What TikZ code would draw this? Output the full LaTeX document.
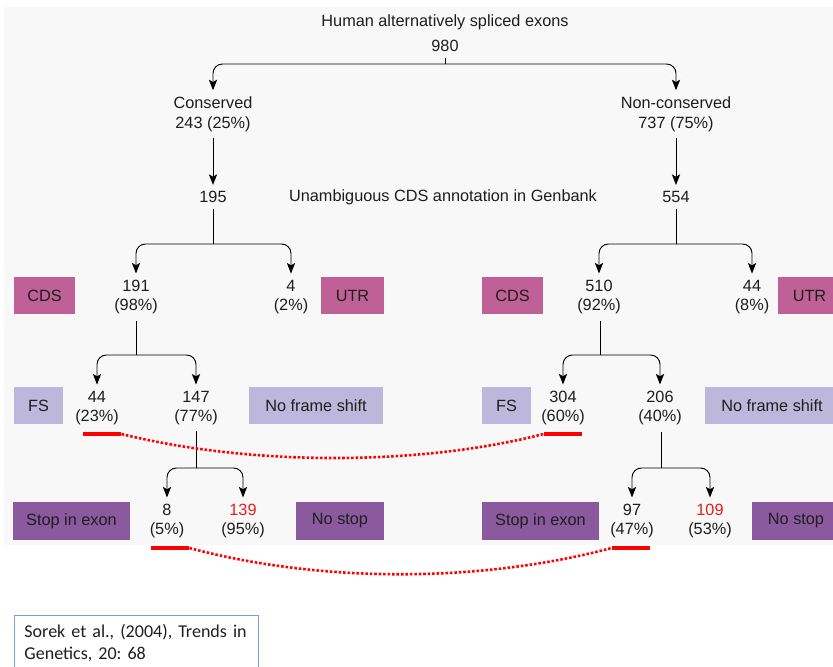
\documentclass[tikz,border=0pt]{standalone}
\usepackage{fontspec}
\setmainfont{Liberation Sans}
\newfontfamily\citefont{Carlito}
\usepackage{xcolor}
\definecolor{colorBack}{RGB}{248,248,248}
\definecolor{colorRegion}{RGB}{191,96,150}
\definecolor{colorShift}{RGB}{189,183,219}
\definecolor{colorStop}{RGB}{139,90,158}
\definecolor{colorMark}{RGB}{255,0,0}
\definecolor{colorCount}{RGB}{228,30,30}
\definecolor{colorCite}{RGB}{120,160,215}
\definecolor{colorText}{RGB}{30,30,30}
\usetikzlibrary{arrows.meta}
\tikzset{
  count/.style={align=center, inner xsep=2pt, inner ysep=5pt, text=colorText},
  tag/.style={minimum height=37*0.03cm, inner sep=0pt, text=colorText},
  regionTag/.style={tag, fill=colorRegion},
  shiftTag/.style={tag, fill=colorShift},
  stopTag/.style={tag, fill=colorStop, minimum height=38*0.03cm},
  redMark/.style={fill=colorMark, minimum width=38*0.03cm, minimum height=4*0.03cm, inner sep=0pt},
  link/.style={colorMark, line width=2.2pt, dash pattern=on 2.2pt off 1.6pt},
  split/.style={->, rounded corners=8pt},
}

\begin{document}
\frenchspacing
\begin{tikzpicture}[x=0.03cm, y=-0.03cm, line width=0.8pt, >={Stealth[length=9pt, width=7pt, inset=2pt]},
  every node/.style={font=\fontsize{13.9pt}{16.8pt}\selectfont}]
\useasboundingbox (0,0) rectangle (833,667);
\clip (0,0) rectangle (833,667);
\fill[colorBack] (4,7) rectangle (833,545);

% top level
\node[count] (title) at (445,22) {Human alternatively spliced exons};
\node[count] (n980) at (445,46) {980};
\node[count] (cons) at (213,114) {Conserved\\243 (25\%)};
\node[count] (ncons) at (676,114) {Non-conserved\\737 (75\%)};
\coordinate (s980) at (445,64);
\draw (n980) -- (s980);
\draw [split] (s980) -| (cons.north);
\draw [split] (s980) -| (ncons.north);

% genbank
\node[count] (n195) at (213,197) {195};
\node[count] (genbank) at (443,197) {Unambiguous CDS annotation in Genbank};
\node[count] (n554) at (676,197) {554};
\draw [->] (cons) edge (n195);
\draw [->] (ncons) edge (n554);

% CDS / UTR
\node[count] (n191) at (136,297) {191\\(98\%)};
\node[count] (n4) at (291,297) {4\\(2\%)};
\node[count] (n510) at (599,297) {510\\(92\%)};
\node[count] (n44u) at (752,297) {44\\(8\%)};
\coordinate (s195) at (213,244);
\coordinate (s554) at (676,244);
\draw (n195) -- (s195);
\draw (n554) -- (s554);
\draw [split] (s195) -| (n191.north);
\draw [split] (s195) -| (n4.north);
\draw [split] (s554) -| (n510.north);
\draw [split] (s554) -| (n44u.north);
\node[regionTag, minimum width=61*0.03cm] (cdsL) at (44.5,295.5) {CDS};
\node[regionTag, minimum width=63*0.03cm] (utrL) at (352.5,295.5) {UTR};
\node[regionTag, minimum width=61*0.03cm] (cdsR) at (512.5,295.5) {CDS};
\node[regionTag, minimum width=63*0.03cm] (utrR) at (809.5,295.5) {UTR};

% frame shift
\node[count] (n44) at (97,408) {44\\(23\%)};
\node[count] (n147) at (196,408) {147\\(77\%)};
\node[count] (n304) at (563,408) {304\\(60\%)};
\node[count] (n206) at (660,408) {206\\(40\%)};
\coordinate (s191) at (136,355);
\coordinate (s510) at (600,355);
\draw (n191.south) -- (s191);
\draw (n510.south -| s510) -- (s510);
\draw [split] (s191) -| (n44.north);
\draw [split] (s191) -| (n147.north);
\draw [split] (s510) -| (n304.north);
\draw [split] (s510) -| (n206.north);
\node[shiftTag, minimum width=49*0.03cm] (fsL) at (38.5,405.5) {FS};
\node[shiftTag, minimum width=134*0.03cm] (nfsL) at (316,405.5) {No frame shift};
\node[shiftTag, minimum width=49*0.03cm] (fsR) at (506.5,405.5) {FS};
\node[shiftTag, minimum width=134*0.03cm] (nfsR) at (772,405.5) {No frame shift};

% stop codon
\node[count] (n8) at (167,521) {8\\(5\%)};
\node[count] (n139) at (243,521) {\textcolor{colorCount}{139}\\(95\%)};
\node[count] (n97) at (632,521) {97\\(47\%)};
\node[count] (n109) at (710,521) {\textcolor{colorCount}{109}\\(53\%)};
\coordinate (s147) at (196,468);
\coordinate (s206) at (661,468);
\draw (n147.south) -- (s147);
\draw (n206.south -| s206) -- (s206);
\draw [split] (s147) -| (n8.north);
\draw [split] (s147) -| (n139.north);
\draw [split] (s206) -| (n97.north);
\draw [split] (s206) -| (n109.north);
\node[stopTag, minimum width=117*0.03cm] (stopL) at (71.5,521) {Stop in exon};
\node[stopTag, minimum width=88*0.03cm] (nostopL) at (340,521) {No stop};
\node[stopTag, minimum width=117*0.03cm] (stopR) at (540.5,521) {Stop in exon};
\node[stopTag, minimum width=88*0.03cm] (nostopR) at (796,521) {No stop};

% red marks
\node[redMark] (m44) at (102,434) {};
\node[redMark] (m304) at (563,434) {};
\node[redMark] (m8) at (170,548) {};
\node[redMark] (m97) at (631,548) {};
\draw [link] (m44.east) .. controls (250,466) and (420,466) .. (m304.west);
\draw [link] (m8.east) .. controls (320,583) and (480,583) .. (m97.west);

% reference
\node[draw=colorCite, line width=0.7pt, anchor=north west,
  text width=224*0.03cm, align=left, inner xsep=10*0.03cm, inner ysep=8pt,
  font=\citefont\fontsize{15.4pt}{18.7pt}\selectfont, text=colorText] (cite) at (14,615)
  {Sorek et al., (2004), Trends in\\Genetics, 20: 68};
\end{tikzpicture}
\end{document}
